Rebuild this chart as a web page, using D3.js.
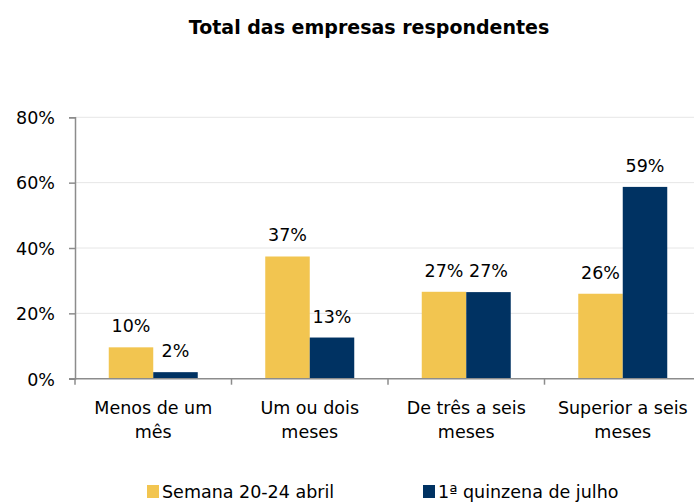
<!DOCTYPE html>
<html>
<head>
<meta charset="utf-8">
<script src="https://cdn.jsdelivr.net/npm/d3@7"></script>
<style>
  body { margin: 0; background: #fff; }
  svg text { font-family: "DejaVu Sans", Verdana, sans-serif; fill: #000; }
</style>
</head>
<body>
<svg id="chart" width="694" height="503"></svg>
<script>

var categories = [["Menos de um", "mês"], ["Um ou dois", "meses"], ["De três a seis", "meses"], ["Superior a seis", "meses"]]
var series = ["Semana 20-24 abril", "1ª quinzena de julho"]
var abril = [9.6, 37.4, 26.6, 26.0]
var julho = [2.0, 12.6, 26.5, 58.7]
var yTicks = [0, 20, 40, 60, 80]
var colors = ["#F2C550", "#003262"]

var svg = d3.select("#chart")
var fs = "17.5px"

var x = d3.scaleBand().domain(d3.range(categories.length)).range([75, 701]).paddingInner(0).paddingOuter(0)
var y = d3.scaleLinear().domain([0, 80]).range([378.7, 117.3])
var barW = 44.5

// gridlines
svg.selectAll(".grid").data(yTicks.slice(1)).enter().append("line")
  .attr("class", "grid")
  .attr("x1", 75).attr("x2", 694)
  .attr("y1", function(d){ return y(d); })
  .attr("y2", function(d){ return y(d); })
  .style("stroke", "#e6e6e6")
  .style("stroke-width", 1)

// bars
var data = []
categories.forEach(function(c, i){
  data.push({cat: i, s: 0, v: abril[i]})
  data.push({cat: i, s: 1, v: julho[i]})
})

svg.selectAll(".bar").data(data).enter().append("rect")
  .attr("class", "bar")
  .attr("x", function(d){ return x(d.cat) + x.bandwidth() / 2 - barW + d.s * barW; })
  .attr("width", barW)
  .attr("y", function(d){ return y(d.v); })
  .attr("height", function(d){ return y(0) - y(d.v); })
  .style("fill", function(d){ return colors[d.s]; })

// value labels
svg.selectAll(".val").data(data).enter().append("text")
  .attr("class", "val")
  .attr("x", function(d){ return x(d.cat) + x.bandwidth() / 2 - barW / 2 + d.s * barW; })
  .attr("y", function(d){ return y(d.v) - 15; })
  .attr("text-anchor", "middle")
  .style("font-size", fs)
  .text(function(d){ return Math.round(d.v) + "%"; })

// y axis
var yAxis = d3.axisLeft(y).tickValues(yTicks).tickSize(6).tickPadding(14)
  .tickFormat(function(d){ return d + "%"; })
var gy = svg.append("g").attr("transform", "translate(75,0)").call(yAxis)
gy.select(".domain").style("stroke", "#8c8c8c").style("stroke-width", 1.5)
gy.selectAll(".tick line").style("stroke", "#8c8c8c").style("stroke-width", 1.5)
gy.selectAll(".tick text").style("font-size", fs).style("font-family", "DejaVu Sans").attr("dy", "0.36em")

// x axis
svg.append("line")
  .attr("x1", 69).attr("x2", 694)
  .attr("y1", y(0)).attr("y2", y(0))
  .style("stroke", "#8c8c8c").style("stroke-width", 1.5)

svg.selectAll(".xtick").data(d3.range(categories.length)).enter().append("line")
  .attr("class", "xtick")
  .attr("x1", function(d){ return x(d); })
  .attr("x2", function(d){ return x(d); })
  .attr("y1", y(0)).attr("y2", y(0) + 6)
  .style("stroke", "#8c8c8c").style("stroke-width", 1.5)

var xl = svg.selectAll(".xlab").data(categories).enter().append("text")
  .attr("class", "xlab")
  .attr("text-anchor", "middle")
  .style("font-size", fs)
xl.selectAll("tspan").data(function(d, i){ return d.map(function(t){ return {t: t, i: i}; }); })
  .enter().append("tspan")
  .attr("x", function(d){ return x(d.i) + x.bandwidth() / 2; })
  .attr("y", function(d, j){ return 414 + j * 24; })
  .text(function(d){ return d.t; })

// title
svg.append("text")
  .attr("x", 369).attr("y", 34)
  .attr("text-anchor", "middle")
  .style("font-size", "19px")
  .style("font-weight", "bold")
  .text("Total das empresas respondentes")

// legend
var legX = [147, 423]
var leg = svg.selectAll(".leg").data(series).enter().append("g")
  .attr("class", "leg")
  .attr("transform", function(d, i){ return "translate(" + legX[i] + ",0)"; })
leg.append("rect")
  .attr("x", 0).attr("y", 485).attr("width", 12).attr("height", 13)
  .style("fill", function(d, i){ return colors[i]; })
leg.append("text")
  .attr("x", 15).attr("y", 498)
  .style("font-size", fs)
  .text(function(d){ return d; })

</script>
</body>
</html>
